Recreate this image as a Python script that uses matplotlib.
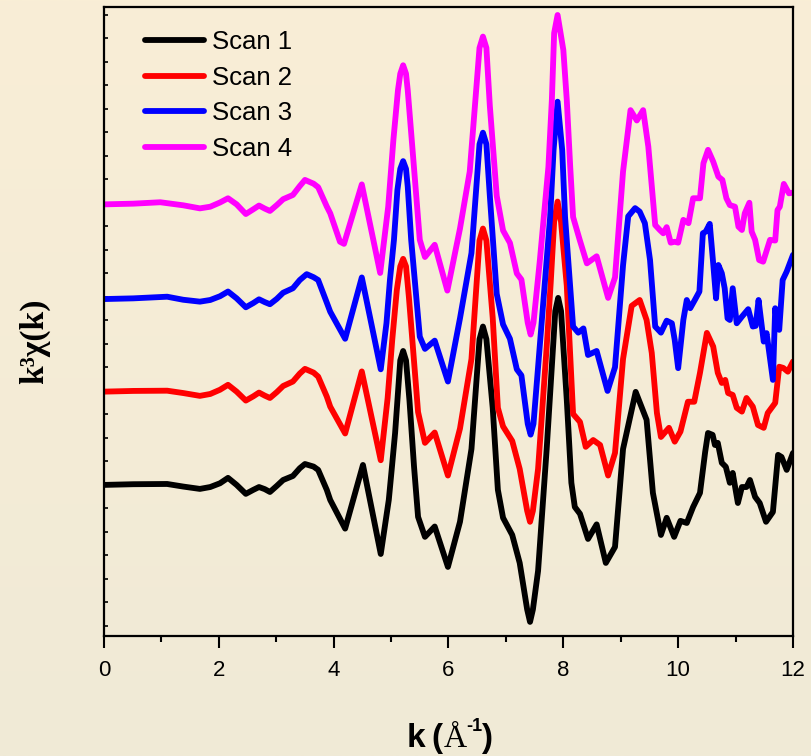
import numpy as np
import matplotlib.pyplot as plt

# k-space EXAFS (values in y-tick units, before stacking)
k1 = [0.0, 0.51, 1.10, 1.38, 1.67, 1.85, 2.02, 2.16, 2.31, 2.47, 2.60, 2.70, 2.80, 2.89, 3.01,
      3.12, 3.29, 3.41, 3.50, 3.65, 3.73, 3.88, 3.94, 4.20, 4.51,
      4.82, 4.96, 5.01, 5.07, 5.16, 5.21, 5.26, 5.32, 5.40, 5.47, 5.59,
      5.76, 5.99, 6.20, 6.40, 6.54, 6.60, 6.66, 6.77, 6.86, 6.95, 7.11,
      7.24, 7.37, 7.42, 7.47, 7.56,
      7.71, 7.86, 7.91, 7.96, 8.06, 8.14, 8.20, 8.29,
      8.43, 8.58, 8.74, 8.90, 9.04, 9.26, 9.45, 9.56, 9.70, 9.80, 9.93, 10.04, 10.15, 10.26, 10.38,
      10.47, 10.52, 10.60, 10.64, 10.69, 10.76, 10.83, 10.90, 10.95, 11.04, 11.11, 11.19, 11.25,
      11.34, 11.42, 11.53, 11.65, 11.74, 11.80, 11.89, 12.0]
scan1 = [0.0, 0.03, 0.04, -0.07, -0.17, -0.09, 0.07, 0.30, 0.0, -0.38, -0.21, -0.09, -0.18, -0.30, -0.04,
         0.21, 0.38, 0.71, 0.89, 0.78, 0.64, -0.21, -0.64, -1.86, 0.85,
         -2.94, -0.64, 0.64, 2.21, 5.3, 5.70, 5.3, 3.6, 0.77, -1.36, -2.21,
         -1.77, -3.49, -1.57, 1.53, 6.2, 6.74, 6.2, 3.28, -0.21, -1.40, -2.13,
         -3.32, -5.3, -5.83, -5.3, -3.66,
         1.53, 7.4, 7.96, 7.4, 3.62, 0.09, -0.94, -1.23,
         -2.30, -1.68, -3.32, -2.64, 1.53, 3.96, 2.77, -0.34, -2.13, -1.40, -2.21, -1.53, -1.62, -0.94, -0.34,
         1.40, 2.21, 2.13, 1.70, 1.79, 0.94, 0.77, 0.09, 0.51, -0.77, -0.09, -0.09, 0.21,
         -0.51, -0.77, -1.57, -1.15, 1.28, 1.19, 0.64, 1.36]

k2 = [0.0, 0.51, 1.10, 1.38, 1.67, 1.85, 2.02, 2.16, 2.31, 2.47, 2.60, 2.70, 2.80, 2.89, 3.01,
      3.12, 3.29, 3.41, 3.50, 3.65, 3.73, 3.88, 3.94, 4.20, 4.49,
      4.82, 4.94, 5.02, 5.10, 5.16, 5.21, 5.26, 5.31, 5.37, 5.47, 5.59,
      5.76, 5.99, 6.20, 6.40, 6.54, 6.60, 6.66, 6.77, 6.86, 6.95, 7.11,
      7.24, 7.37, 7.42, 7.47, 7.56,
      7.71, 7.78, 7.84, 7.90, 7.96, 8.06, 8.17,
      8.29, 8.39, 8.52, 8.64, 8.78, 8.90, 9.04, 9.19, 9.33, 9.45, 9.54, 9.63, 9.70, 9.84, 9.94,
      10.04, 10.17, 10.28, 10.38, 10.50, 10.61, 10.69, 10.76, 10.82, 10.87, 10.95, 11.02, 11.11,
      11.19, 11.30, 11.39, 11.49, 11.56, 11.69, 11.76, 11.83, 11.91, 12.0]
scan2 = [-0.03, 0.0, 0.01, -0.09, -0.21, -0.13, 0.05, 0.26, -0.03, -0.41, -0.23, -0.07, -0.20, -0.30, -0.05,
         0.21, 0.40, 0.74, 0.94, 0.78, 0.61, -0.24, -0.67, -1.81, 0.83,
         -2.95, -0.3, 2.17, 4.3, 5.3, 5.62, 5.3, 4.0, 2.17, -0.9, -2.21,
         -1.77, -3.60, -1.60, 1.36, 6.4, 6.91, 6.4, 3.11, -0.72, -1.51, -2.13,
         -3.32, -5.1, -5.57, -5.1, -3.32,
         1.87, 4.6, 7.2, 8.06, 7.2, 4.48, -0.98,
         -1.32, -2.38, -2.09, -2.30, -3.60, -2.64, 1.36, 3.62, 3.87, 3.02, 1.62, -0.94, -1.96, -1.57, -2.16,
         -1.73, -0.46, -0.46, 0.77, 2.47, 1.89, 0.77, 0.34, 0.47, -0.09, -0.17, -0.72, -0.88,
         -0.30, -0.67, -1.45, -1.57, -0.94, -0.51, 1.03, 0.98, 0.82, 1.25]

k3 = [0.0, 0.51, 1.10, 1.38, 1.67, 1.85, 2.02, 2.16, 2.31, 2.47, 2.60, 2.70, 2.80, 2.89, 3.01,
      3.12, 3.29, 3.41, 3.53, 3.65, 3.73, 3.88, 3.94, 4.20, 4.49,
      4.82, 4.92, 4.98, 5.05, 5.11, 5.16, 5.21, 5.26, 5.29, 5.35, 5.50, 5.59,
      5.76, 5.99, 6.20, 6.40, 6.54, 6.60, 6.66, 6.72, 6.84, 6.95, 7.07,
      7.19, 7.27, 7.38, 7.43, 7.48, 7.56,
      7.77, 7.83, 7.90, 7.98, 8.03, 8.17,
      8.26, 8.35, 8.43, 8.58, 8.77, 8.90, 9.04, 9.13, 9.25, 9.33, 9.42, 9.51, 9.60, 9.70, 9.80,
      9.89, 9.94, 10.00, 10.09, 10.15, 10.21, 10.29, 10.37, 10.43, 10.48, 10.55, 10.61, 10.66,
      10.70, 10.76, 10.81, 10.86, 10.90, 10.95, 11.02, 11.11, 11.22, 11.30, 11.35, 11.40, 11.45,
      11.49, 11.54, 11.65, 11.69, 11.73, 11.76, 11.82, 11.89, 12.0]
scan3 = [-0.09, -0.06, 0.01, -0.12, -0.20, -0.13, 0.03, 0.23, -0.06, -0.44, -0.26, -0.10, -0.22, -0.31, -0.08,
         0.18, 0.37, 0.72, 0.97, 0.84, 0.72, -0.24, -0.63, -1.78, 0.83,
         -3.08, -1.11, 0.72, 2.43, 4.55, 5.45, 5.78, 5.45, 4.7, 2.43, -1.69, -2.21,
         -1.86, -3.60, -0.91, 1.87, 6.5, 6.99, 6.5, 4.30, 0.13, -1.17, -1.78,
         -3.08, -3.34, -5.4, -5.86, -5.4, -2.99,
         3.40, 6.26, 8.31, 6.26, 3.40, -1.26,
         -1.52, -1.34, -2.47, -2.30, -4.00, -2.99, 1.35, 3.43, 3.78, 3.63, 3.14, 1.57, -1.26, -1.52, -1.01,
         -1.12, -1.83, -3.03, -0.98, -0.13, -0.48, -0.13, 0.23, 2.71, 2.78, 3.11, 1.43, -0.06,
         1.36, 1.01, 0.37, -0.91, -0.98, 0.37, -1.12, -0.84, -0.52, -1.26, -1.23, -0.13, -1.12,
         -1.90, -1.54, -3.53, -0.48, -1.26, -1.40, 0.72, 1.08, 1.79]

k4 = [0.0, 0.51, 0.98, 1.38, 1.67, 1.85, 2.02, 2.16, 2.31, 2.47, 2.60, 2.70, 2.80, 2.89, 3.01,
      3.12, 3.29, 3.41, 3.50, 3.65, 3.73, 3.88, 3.94, 4.11, 4.18, 4.49,
      4.81, 4.95, 5.04, 5.12, 5.16, 5.21, 5.26, 5.29, 5.36, 5.50, 5.59,
      5.76, 5.98, 6.20, 6.37, 6.54, 6.60, 6.66, 6.72, 6.84, 6.95,
      7.07, 7.19, 7.27, 7.38, 7.43, 7.48, 7.59,
      7.74, 7.80, 7.84, 7.90, 8.00, 8.06, 8.12, 8.17, 8.29,
      8.41, 8.58, 8.78, 8.90, 9.04, 9.17, 9.28, 9.39, 9.48, 9.60, 9.68, 9.74, 9.80, 9.87, 9.94, 10.00,
      10.09, 10.18, 10.26, 10.38, 10.44, 10.52, 10.61, 10.70, 10.77, 10.84, 10.90, 10.99, 11.05,
      11.11, 11.16, 11.24, 11.28, 11.34, 11.41, 11.48, 11.60, 11.69, 11.73, 11.77, 11.84, 11.93, 12.0]
scan4 = [-0.06, -0.03, 0.03, -0.10, -0.23, -0.16, 0.02, 0.20, -0.06, -0.47, -0.27, -0.11, -0.24, -0.34, -0.09,
         0.16, 0.34, 0.72, 0.98, 0.82, 0.67, -0.15, -0.44, -1.65, -1.74, 0.79,
         -2.98, -0.16, 2.68, 4.8, 5.5, 5.86, 5.5, 4.8, 2.68, -1.57, -2.30,
         -1.78, -3.73, -1.09, 1.34, 6.6, 7.08, 6.6, 4.13, 0.30, -1.17,
         -1.70, -3.00, -3.26, -5.1, -5.60, -5.1, -2.47,
         1.53, 4.38, 7.23, 8.0, 6.51, 4.38, 1.53, -0.6, -1.61,
         -2.57, -2.27, -4.04, -3.17, 1.34, 3.95, 3.51, 3.95, 2.40, -0.94, -1.15, -1.29, -1.03, -1.69, -1.65, -1.69,
         -0.72, -0.86, 0.20, 0.20, 1.69, 2.26, 1.76, 1.12, 0.98, 0.20, -0.09, -0.16, -1.01,
         -1.15, -0.44, 0.01, -1.22, -1.57, -2.43, -2.50, -1.57, -1.60, -0.30, -0.16, 0.81, 0.41, 0.44]

labels = ['Scan 1', 'Scan 2', 'Scan 3', 'Scan 4']
colors = ['black', 'red', 'blue', 'magenta']
offsets = [0, 4, 8, 12]

plt.rcParams['font.family'] = 'Liberation Sans'

fig = plt.figure(figsize=(8.12, 7.56), dpi=100)

# beige gradient background
bg = fig.add_axes([0, 0, 1, 1], zorder=-10)
grad = np.linspace(0, 1, 256).reshape(-1, 1)
top = np.array([249, 238, 214]) / 255
bottom = np.array([240, 234, 215]) / 255
img = top + (bottom - top) * grad[:, :, None]
bg.imshow(img, aspect='auto', extent=[0, 1, 0, 1])
bg.axis('off')

ax = fig.add_axes([104 / 812, 1 - 636 / 756, 689 / 812, 629 / 756])
ax.set_facecolor('none')

for kk, ss, lab, col, off in zip([k1, k2, k3, k4], [scan1, scan2, scan3, scan4], labels, colors, offsets):
    ax.plot(kk, np.array(ss) + off, color=col, lw=4.2, label=lab,
            solid_joinstyle='round', solid_capstyle='round')

ax.set_xlim(0, 12)
ax.set_ylim(-6.43, 20.34)
ax.set_xticks(range(0, 13, 2))
ax.set_xticks(range(1, 12, 2), minor=True)
ax.set_yticks(range(-6, 21))
ax.tick_params(axis='x', which='major', direction='out', length=8.5, width=1.5, labelsize=16, pad=9)
ax.tick_params(axis='x', which='minor', direction='out', length=4.5, width=1.5)
ax.tick_params(axis='y', which='major', direction='in', length=3, width=1.2, labelleft=False)
for sp in ax.spines.values():
    sp.set_linewidth(1.6)

ax.legend(loc='upper left', bbox_to_anchor=(0.06, 0.963), frameon=False, fontsize=18.5,
          handlelength=2.3, handletextpad=0.3, labelspacing=0.45, borderaxespad=0, borderpad=0)

# y label
ax.set_ylabel('k³χ(k)', family='Liberation Serif', fontweight='bold', fontsize=24)
ax.yaxis.set_label_coords(-0.078, 0.469)

# x label built from pieces (bold k, serif Angstrom, bold superscript)
yb = 1 - 747 / 756
fig.text(407 / 812, yb, 'k', fontsize=24, fontweight='bold', va='baseline')
fig.text(431 / 812, yb, '(', fontsize=24, fontweight='bold', va='baseline')
fig.text(444 / 812, yb, 'Å', fontsize=23, family='Liberation Serif', va='baseline')
fig.text(466 / 812, 1 - 731 / 756, '-1', fontsize=13, fontweight='bold', va='baseline')
fig.text(481 / 812, yb, ')', fontsize=24, fontweight='bold', va='baseline')

fig.savefig('out.png', dpi=100)
